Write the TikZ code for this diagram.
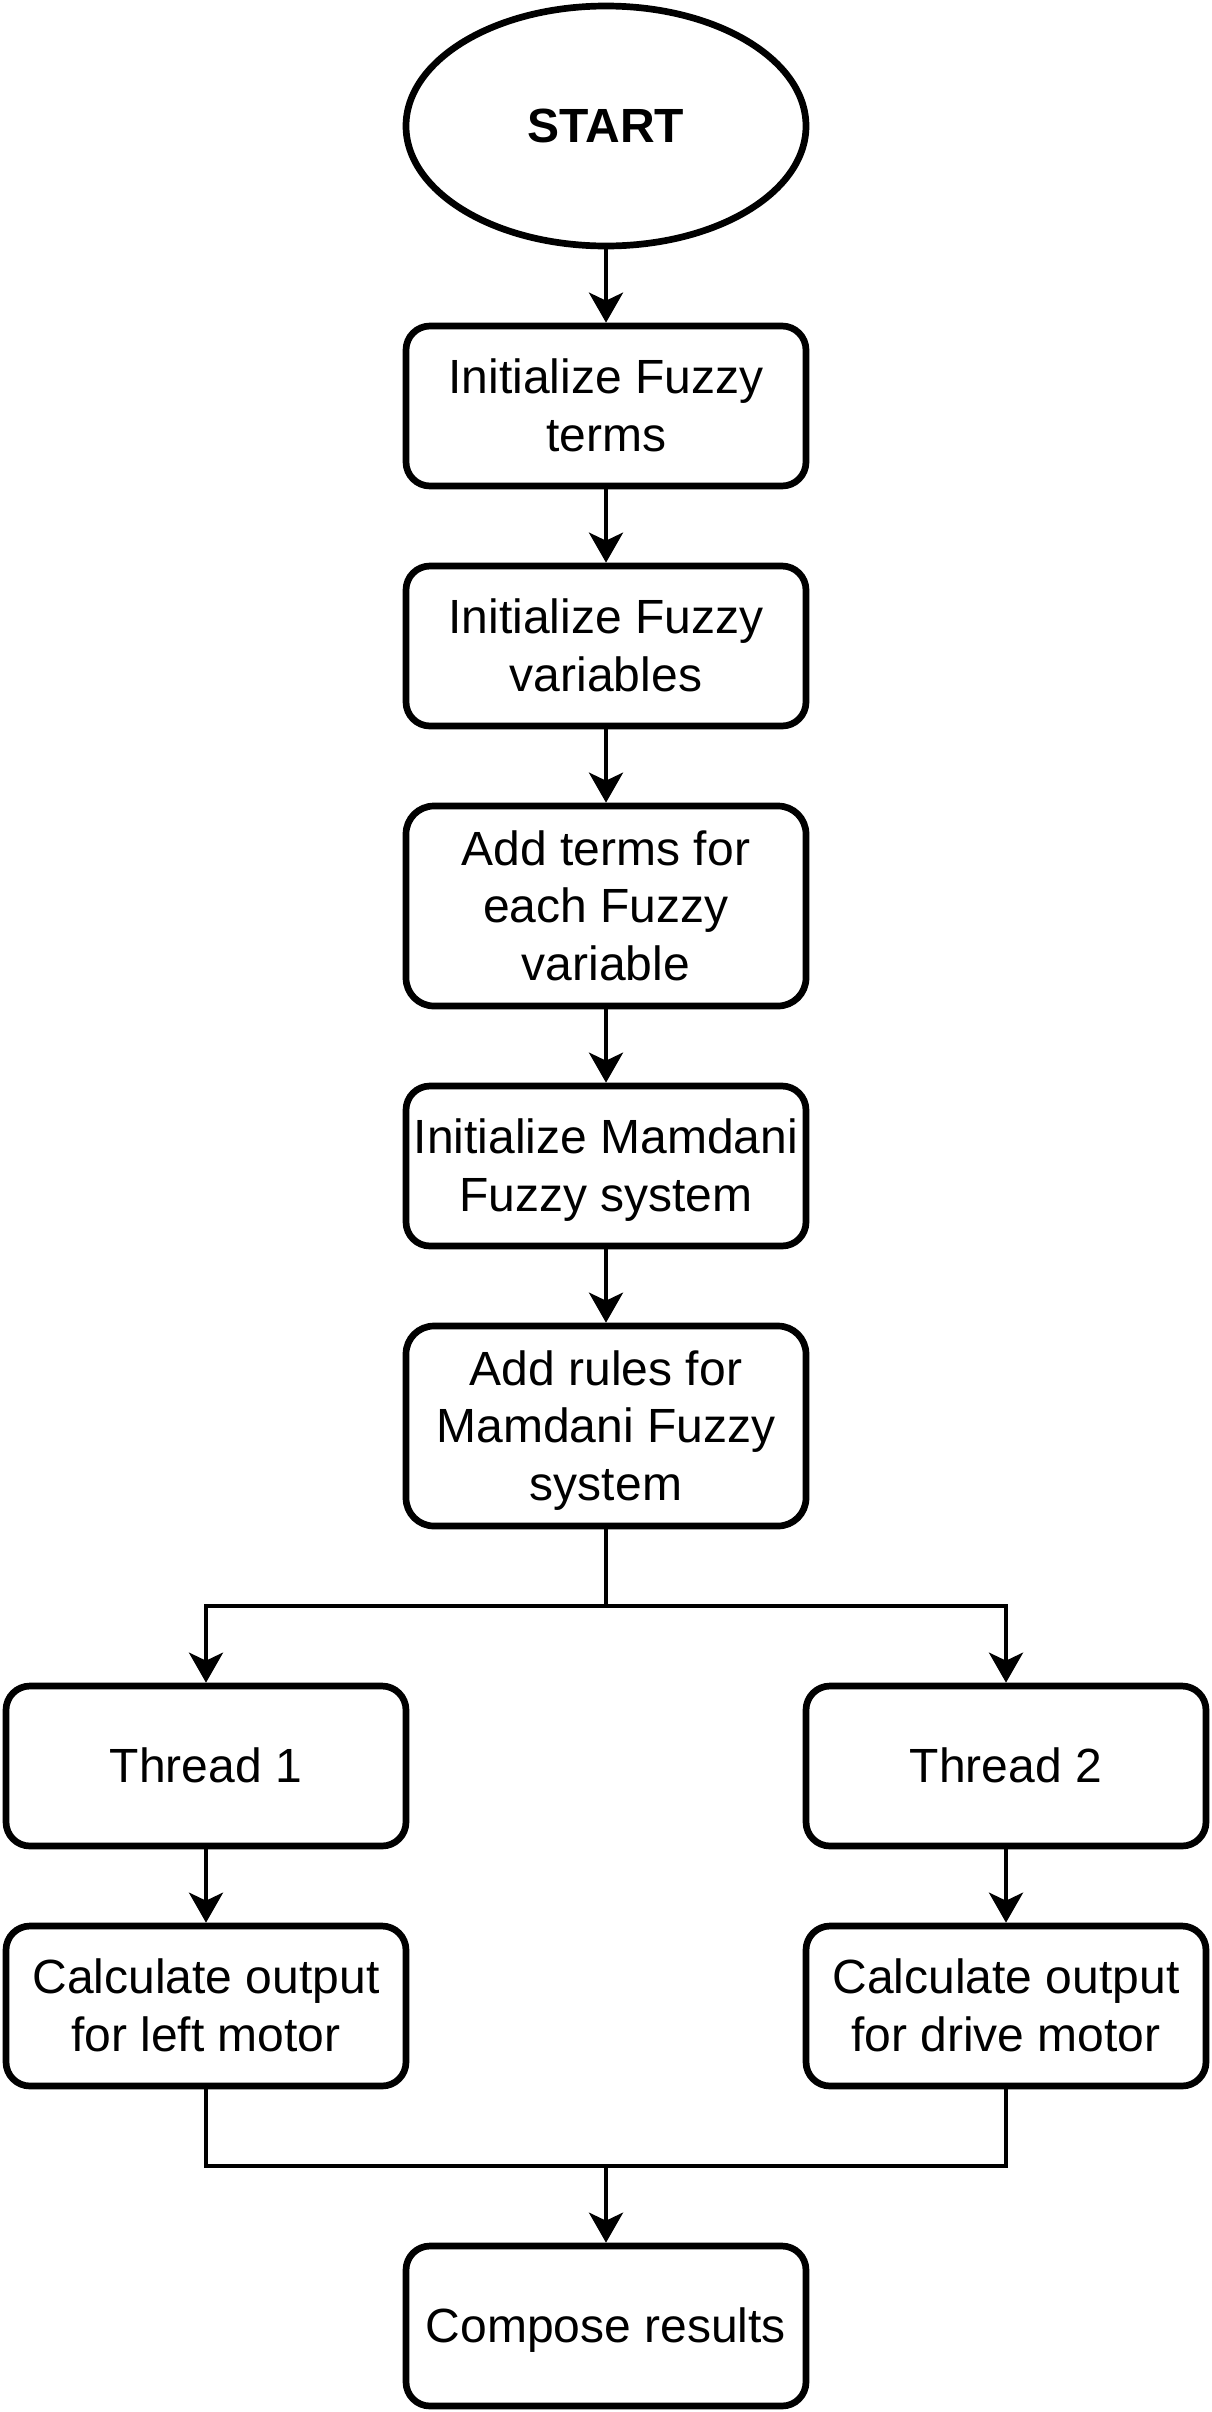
\documentclass[tikz,border=0pt]{standalone}
\usepackage{fontspec}
\setmainfont{Liberation Sans}
\usetikzlibrary{shapes.geometric,arrows.meta}
\newcommand{\ls}{\rule[-12.2pt]{0pt}{57.6pt}}
\begin{document}
\begin{tikzpicture}[x=1pt,y=-1pt,
  every node/.style={inner sep=0pt},
  box/.style={draw, line width=6.7pt, rounded corners=24pt, rectangle,
    minimum width=400pt, minimum height=160pt, align=center,
    font=\fontsize{48}{57.6}\selectfont},
  tallbox/.style={box, minimum height=200pt, rounded corners=28pt},
  startnode/.style={draw, line width=6.7pt, ellipse, minimum width=400pt,
    minimum height=240pt, font=\fontsize{48}{57.6}\selectfont\bfseries},
  conn/.style={line width=4.2pt, line join=miter},
  arr/.style={conn, -{Stealth[length=30pt, width=34pt, inset=8pt]}}]
\useasboundingbox[fill=white] (0,0) rectangle (1212,2412);

\node[startnode] (start) at (606,126) {\ls START};
\node[box] (b1) at (606,406) {\ls Initialize Fuzzy\\\ls terms};
\node[box] (b2) at (606,646) {\ls Initialize Fuzzy\\\ls variables};
\node[tallbox] (b3) at (606,906) {\ls Add terms for\\\ls each Fuzzy\\\ls variable};
\node[box] (b4) at (606,1166) {\ls Initialize Mamdani\\\ls Fuzzy system};
\node[tallbox] (b5) at (606,1426) {\ls Add rules for\\\ls Mamdani Fuzzy\\\ls system};
\node[box] (t1) at (206,1766) {\ls Thread 1};
\node[box] (t2) at (1006,1766) {\ls Thread 2};
\node[box] (c1) at (206,2006) {\ls Calculate output\\\ls for left motor};
\node[box] (c2) at (1006,2006) {\ls Calculate output\\\ls for drive motor};
\node[box] (comp) at (606,2326) {\ls Compose results};

\coordinate (split) at (606,1606);
\coordinate (merge) at (606,2166);

\draw[arr] (start.south) -- (b1.north);
\draw[arr] (b1.south) -- (b2.north);
\draw[arr] (b2.south) -- (b3.north);
\draw[arr] (b3.south) -- (b4.north);
\draw[arr] (b4.south) -- (b5.north);
\draw[conn] (b5.south) -- (split);
\draw[arr] (split) -| (t1.north);
\draw[arr] (split) -| (t2.north);
\draw[arr] (t1.south) -- (c1.north);
\draw[arr] (t2.south) -- (c2.north);
\draw[conn] (c1.south) |- (merge);
\draw[conn] (c2.south) |- (merge);
\draw[arr] (merge) -- (comp.north);
\end{tikzpicture}
\end{document}
